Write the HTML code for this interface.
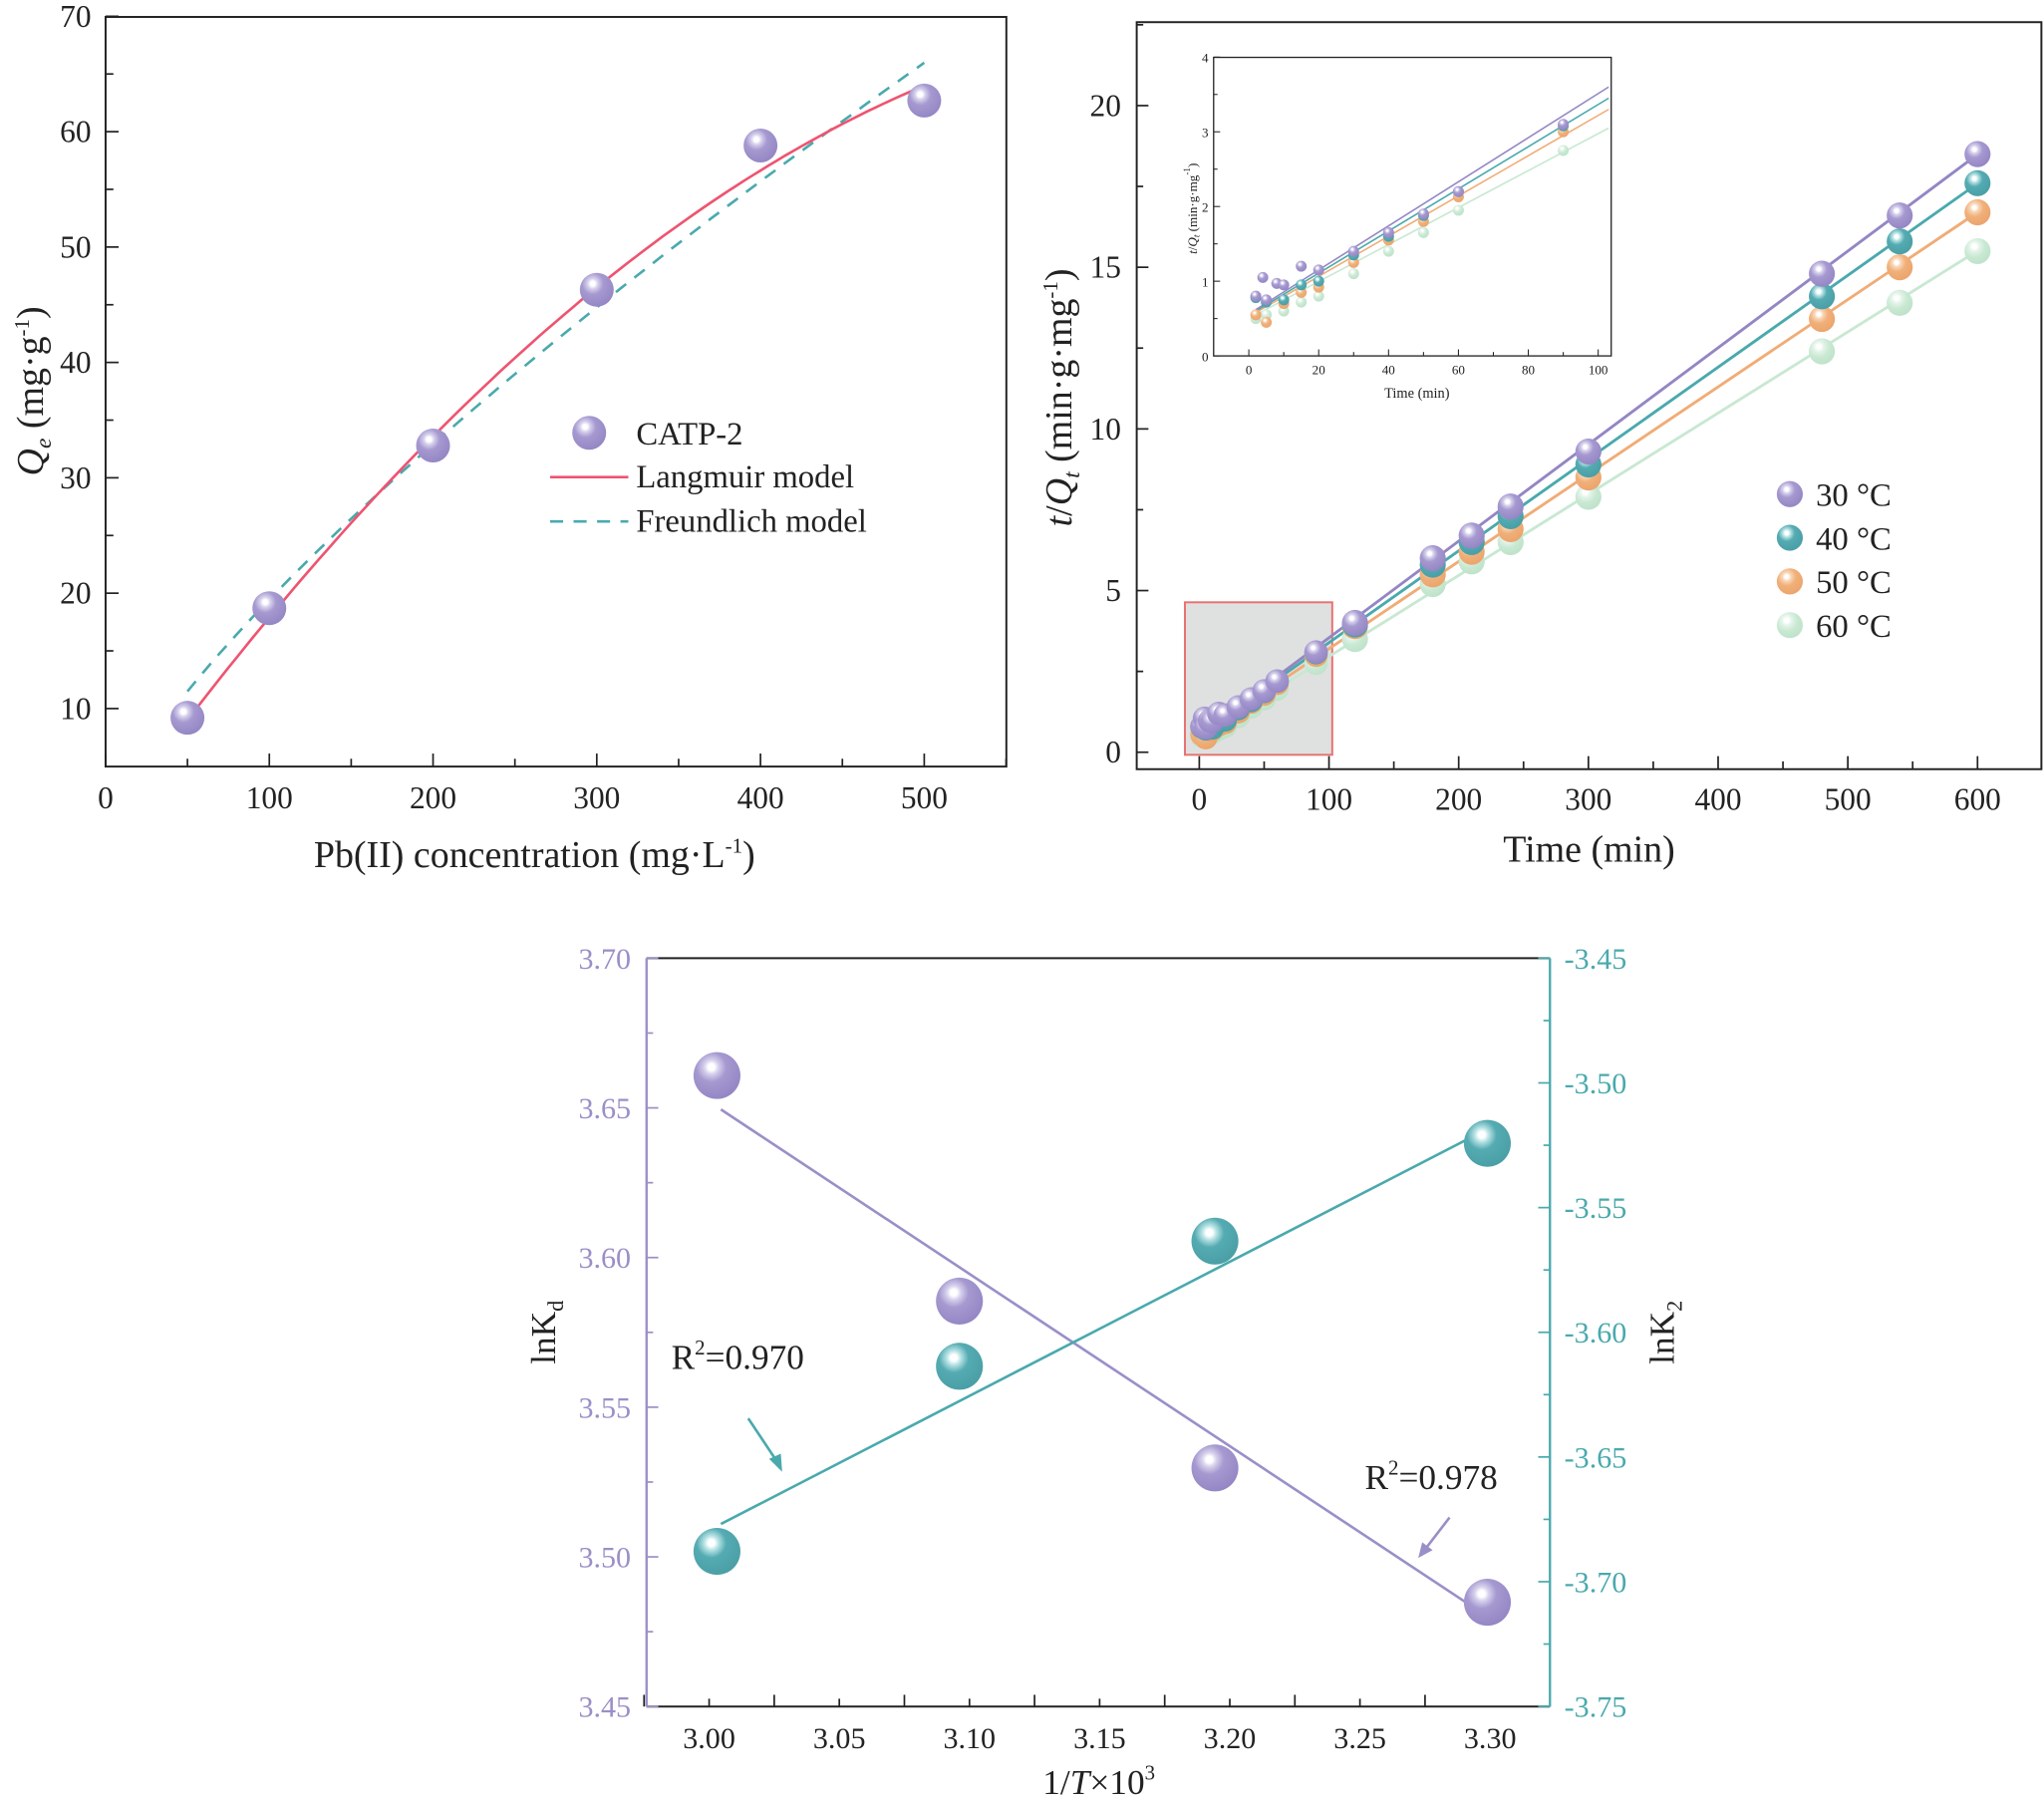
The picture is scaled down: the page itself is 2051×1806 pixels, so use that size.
<!DOCTYPE html>
<html><head><meta charset="utf-8"><style>
html,body{margin:0;padding:0;background:#fff;}
svg{display:block;font-family:"Liberation Serif","DejaVu Serif",serif;}
</style></head><body>
<svg id="s" width="2051" height="1806" viewBox="0 0 1568 1380.7" preserveAspectRatio="none" xmlns="http://www.w3.org/2000/svg" font-family="Liberation Serif, DejaVu Serif, serif">
<defs>
<radialGradient id="gP" cx="0.38" cy="0.32" r="0.7"><stop offset="0" stop-color="#fff"/><stop offset="0.1" stop-color="#fff"/><stop offset="0.22" stop-color="#d6d0ec"/><stop offset="0.45" stop-color="#a699d0"/><stop offset="1" stop-color="#9486c4"/></radialGradient>
<radialGradient id="gT" cx="0.38" cy="0.32" r="0.7"><stop offset="0" stop-color="#fff"/><stop offset="0.1" stop-color="#fff"/><stop offset="0.22" stop-color="#b6e2e4"/><stop offset="0.45" stop-color="#55abb2"/><stop offset="1" stop-color="#4a9fa6"/></radialGradient>
<radialGradient id="gO" cx="0.38" cy="0.32" r="0.7"><stop offset="0" stop-color="#fff"/><stop offset="0.1" stop-color="#fff"/><stop offset="0.24" stop-color="#f8d6b6"/><stop offset="0.5" stop-color="#f1b07a"/><stop offset="1" stop-color="#eaa56c"/></radialGradient>
<radialGradient id="gG" cx="0.38" cy="0.32" r="0.7"><stop offset="0" stop-color="#fff"/><stop offset="0.12" stop-color="#fff"/><stop offset="0.3" stop-color="#e2f3e8"/><stop offset="0.6" stop-color="#c8e8d2"/><stop offset="1" stop-color="#bfe2ca"/></radialGradient>
</defs>
<g id="root" font-family="Liberation Serif, DejaVu Serif, serif"></g>
</svg>
<script>
var R=document.getElementById('root'),o='';
function L(x1,y1,x2,y2,c,w,extra){o+='<line x1="'+x1+'" y1="'+y1+'" x2="'+x2+'" y2="'+y2+'" stroke="'+c+'" stroke-width="'+(w||1.3)+'" '+(extra||'')+'/>';}
function T(x,y,t,sz,anc,c,extra){o+='<text x="'+x+'" y="'+y+'" font-size="'+sz+'" text-anchor="'+(anc||'middle')+'" fill="'+(c||'#222')+'" '+(extra||'')+'>'+t+'</text>';}
function B(x,y,r,g){o+='<ellipse cx="'+x+'" cy="'+y+'" rx="'+r+'" ry="'+r+'" fill="url(#'+g+')"/>';}
function P(pts,c,w,extra){o+='<polyline fill="none" points="'+pts.map(function(p){return p[0].toFixed(1)+','+p[1].toFixed(1)}).join(' ')+'" stroke="'+c+'" stroke-width="'+w+'" '+(extra||'')+'/>';}
// ---------- Panel 1 ----------
var px=function(c){return 81+1.256*c}, py=function(q){return 632-8.85*q};
o+='<rect x="81" y="13" width="691" height="575" fill="none" stroke="#222" stroke-width="1.5"/>';
for(var c=0;c<=550;c+=50){var x=px(c);L(x,588,x,c%100?582:578,'#222');}
for(var c=0;c<=500;c+=100)T(px(c),620,c,24);
for(var q=10;q<=70;q+=5){var y=py(q);L(81,y,q%10?87:91,y,'#222');}
for(var q=10;q<=70;q+=10)T(70,py(q)+8,q,24,'end');
T(410,665,'Pb(II) concentration (mg·L<tspan font-size="16" dy="-11">-1</tspan><tspan dy="11">)</tspan>',29);
T(0,0,'<tspan font-style="italic">Q</tspan><tspan font-style="italic" font-size="18" dy="6">e</tspan><tspan dy="-6"> (mg·g</tspan><tspan font-size="16" dy="-11">-1</tspan><tspan dy="11">)</tspan>',29,'middle','#222','transform="translate(33,300) rotate(-90)"');
var fr=[],la=[];
for(var c=50;c<=500;c+=5){fr.push([px(c),py(0.59*Math.pow(c,0.759))]);la.push([px(c),py(-0.58+0.1986*c-0.0001389*c*c)]);}
P(fr,'#4aa9ad',2,'stroke-dasharray="10,8"');
P(la,'#ee5470',2);
[[50,9.2],[100,18.7],[200,32.8],[300,46.3],[400,58.8],[500,62.7]].forEach(function(d){B(px(d[0]),py(d[1]),13,'gP')});
B(452,332,13,'gP');T(488,341,'CATP-2',25,'start');
L(422,366,482,366,'#ee5470',2);T(488,374,'Langmuir model',25,'start');
L(422,400,482,400,'#4aa9ad',2,'stroke-dasharray="10,8"');T(488,408,'Freundlich model',25,'start');
// ---------- Panel 2 ----------
var qx=function(t){return 920+0.995*t}, qy=function(v){return 577-24.8*v};
o+='<rect x="872" y="17" width="694" height="573" fill="none" stroke="#222" stroke-width="1.5"/>';
for(var t=-50;t<=600;t+=50){if(t<-40)continue;var x=qx(t);L(x,590,x,t%100?584:580,'#222');}
for(var t=0;t<=600;t+=100)T(qx(t),621,t,24);
for(var v=0;v<=22.5;v+=2.5){var y=qy(v);L(872,y,v%5?877:881,y,'#222');}
for(var v=0;v<=20;v+=5)T(860,qy(v)+8,v,24,'end');
T(1219,661,'Time (min)',29);
T(0,0,'<tspan font-style="italic">t</tspan>/<tspan font-style="italic">Q</tspan><tspan font-style="italic" font-size="18" dy="6">t</tspan><tspan dy="-6"> (min·g·mg</tspan><tspan font-size="16" dy="-11">-1</tspan><tspan dy="11">)</tspan>',29,'middle','#222','transform="translate(822,305) rotate(-90)"');
o+='<rect x="909" y="462" width="113" height="117" fill="#dfe1e0" stroke="#e87070" stroke-width="1.5"/>';
var cols=['#9486c4','#4aa9ad','#f0ac76','#c8e8d2'],gr=['gP','gT','gO','gG'];
var lines=[[0.55,0.0299],[0.55,0.0284],[0.5,0.027],[0.45,0.0251]];
var big=[[[120,4.0],[180,6.0],[210,6.7],[240,7.6],[300,9.3],[480,14.8],[540,16.6],[600,18.5]],
[[120,3.95],[180,5.8],[210,6.5],[240,7.3],[300,8.9],[480,14.1],[540,15.8],[600,17.6]],
[[120,3.9],[180,5.5],[210,6.2],[240,6.9],[300,8.5],[480,13.4],[540,15.0],[600,16.7]],
[[120,3.5],[180,5.2],[210,5.9],[240,6.5],[300,7.9],[480,12.4],[540,13.9],[600,15.5]]];
var small=[[[2,0.8],[4,1.05],[5,0.75],[8,0.97],[10,0.95],[15,1.2],[20,1.15],[30,1.4],[40,1.65],[50,1.9],[60,2.2],[90,3.1]],
[[2,0.78],[5,0.72],[10,0.75],[15,0.95],[20,1.0],[30,1.35],[40,1.6],[50,1.88],[60,2.2],[90,3.08]],
[[2,0.55],[5,0.45],[10,0.7],[15,0.85],[20,0.92],[30,1.25],[40,1.55],[50,1.8],[60,2.13],[90,3.0]],
[[2,0.5],[5,0.55],[10,0.6],[15,0.72],[20,0.8],[30,1.1],[40,1.4],[50,1.65],[60,1.95],[90,2.75]]];
for(var s=3;s>=0;s--){
 L(qx(5),qy(lines[s][0]+lines[s][1]*5),qx(600),qy(lines[s][0]+lines[s][1]*600),cols[s],2.2);
}
for(var s=3;s>=0;s--){
 big[s].forEach(function(d){B(qx(d[0]),qy(d[1]),10,gr[s])});
 small[s].forEach(function(d){B(qx(d[0]),qy(d[1]),9,gr[s])});
}
['30 °C','40 °C','50 °C','60 °C'].forEach(function(t,i){var y=379+i*33.5;B(1373,y,10,gr[i]);T(1393,y+9,t,25,'start');});
// inset
var ix=function(t){return 958+2.68*t}, iy=function(v){return 273-57.3*v};
o+='<rect x="931" y="44" width="305" height="229" fill="#fff" stroke="#222" stroke-width="1"/>';
for(var t=0;t<=100;t+=10){var x=ix(t);L(x,273,x,t%20?270:268,'#222',0.8);}
for(var t=0;t<=100;t+=20)T(ix(t),287,t,10);
for(var v=0;v<=4;v+=0.5){var y=iy(v);L(931,y,v%1?934:936,y,'#222',0.8);}
for(var v=0;v<=4;v++)T(927,iy(v)+4,v,10,'end');
T(1087,305,'Time (min)',11);
T(0,0,'<tspan font-style="italic">t</tspan>/<tspan font-style="italic">Q</tspan><tspan font-style="italic" font-size="7" dy="2">t</tspan><tspan dy="-2"> (min·g·mg</tspan><tspan font-size="7" dy="-5">-1</tspan><tspan dy="5">)</tspan>',10,'middle','#222','transform="translate(918,160) rotate(-90)"');
var il=[[0.62,3.6],[0.6,3.45],[0.58,3.3],[0.55,3.05]];
for(var s=3;s>=0;s--)L(ix(2),iy(il[s][0]),ix(103),iy(il[s][1]),cols[s],1.2);
for(var s=3;s>=0;s--)small[s].forEach(function(d){B(ix(d[0]),iy(d[1]),4.2,gr[s])});
// ---------- Panel 3 ----------
var PU='#9b8fc8',TE='#4aa9ad';
var bx=function(v){return 544+1997*(v-3)}, bl=function(v){return 735+2296*(3.70-v)}, br=function(v){return 735+1913*(-3.45-v)};
L(496,735,1189,735,'#222',1.5);L(496,1309,1189,1309,'#222',1.5);
L(496,735,496,1309,PU,1.8);L(1189,735,1189,1309,TE,1.8);
for(var i=0;i<=12;i++){var v=2.975+i*0.025;if(v>3.32)break;var x=bx(v);L(x,1309,x,i%2?1303:1300,'#222');}
for(var i=0;i<=6;i++){var v=3+i*0.05;T(bx(v),1341,v.toFixed(2),23);}
for(var i=0;i<=10;i++){var v=3.70-i*0.025;var y=bl(v);L(496,y,i%2?501:505,y,PU);}
for(var i=0;i<=5;i++){var v=3.70-i*0.05;T(484,bl(v)+8,v.toFixed(2),23,'end',PU);}
for(var i=0;i<=12;i++){var v=-3.45-i*0.025;var y=br(v);L(1189,y,i%2?1184:1180,y,TE);}
for(var i=0;i<=6;i++){var v=-3.45-i*0.05;T(1200,br(v)+8,v.toFixed(2),23,'start',TE);}
T(843,1376,'1/<tspan font-style="italic">T</tspan>×10<tspan font-size="16" dy="-11">3</tspan>',27);
T(0,0,'lnK<tspan font-size="17" dy="6">d</tspan>',27,'middle','#222','transform="translate(426,1022) rotate(-90)"');
T(0,0,'lnK<tspan font-size="17" dy="6">2</tspan>',27,'middle','#222','transform="translate(1284,1022) rotate(-90)"');
L(553,851,1141,1240,PU,2);L(553,1169,1141,866,TE,2);
[[550,825],[736,998],[932,1126],[1141,1229]].forEach(function(d){B(d[0],d[1],18,'gP')});
[[550,1190],[736,1048],[932,952],[1141,877]].forEach(function(d){B(d[0],d[1],18,'gT')});
T(515,1050,'R<tspan font-size="16" dy="-11">2</tspan><tspan dy="11">=0.970</tspan>',27,'start');
T(1047,1142,'R<tspan font-size="16" dy="-11">2</tspan><tspan dy="11">=0.978</tspan>',27,'start');
L(574,1088,598,1124,TE,2);o+='<polygon points="600,1129 590,1119 599,1115" fill="'+TE+'"/>';
L(1112,1164,1092,1190,PU,2);o+='<polygon points="1088,1195 1091,1183 1099,1189" fill="'+PU+'"/>';
R.innerHTML=o;
</script>
</body></html>
